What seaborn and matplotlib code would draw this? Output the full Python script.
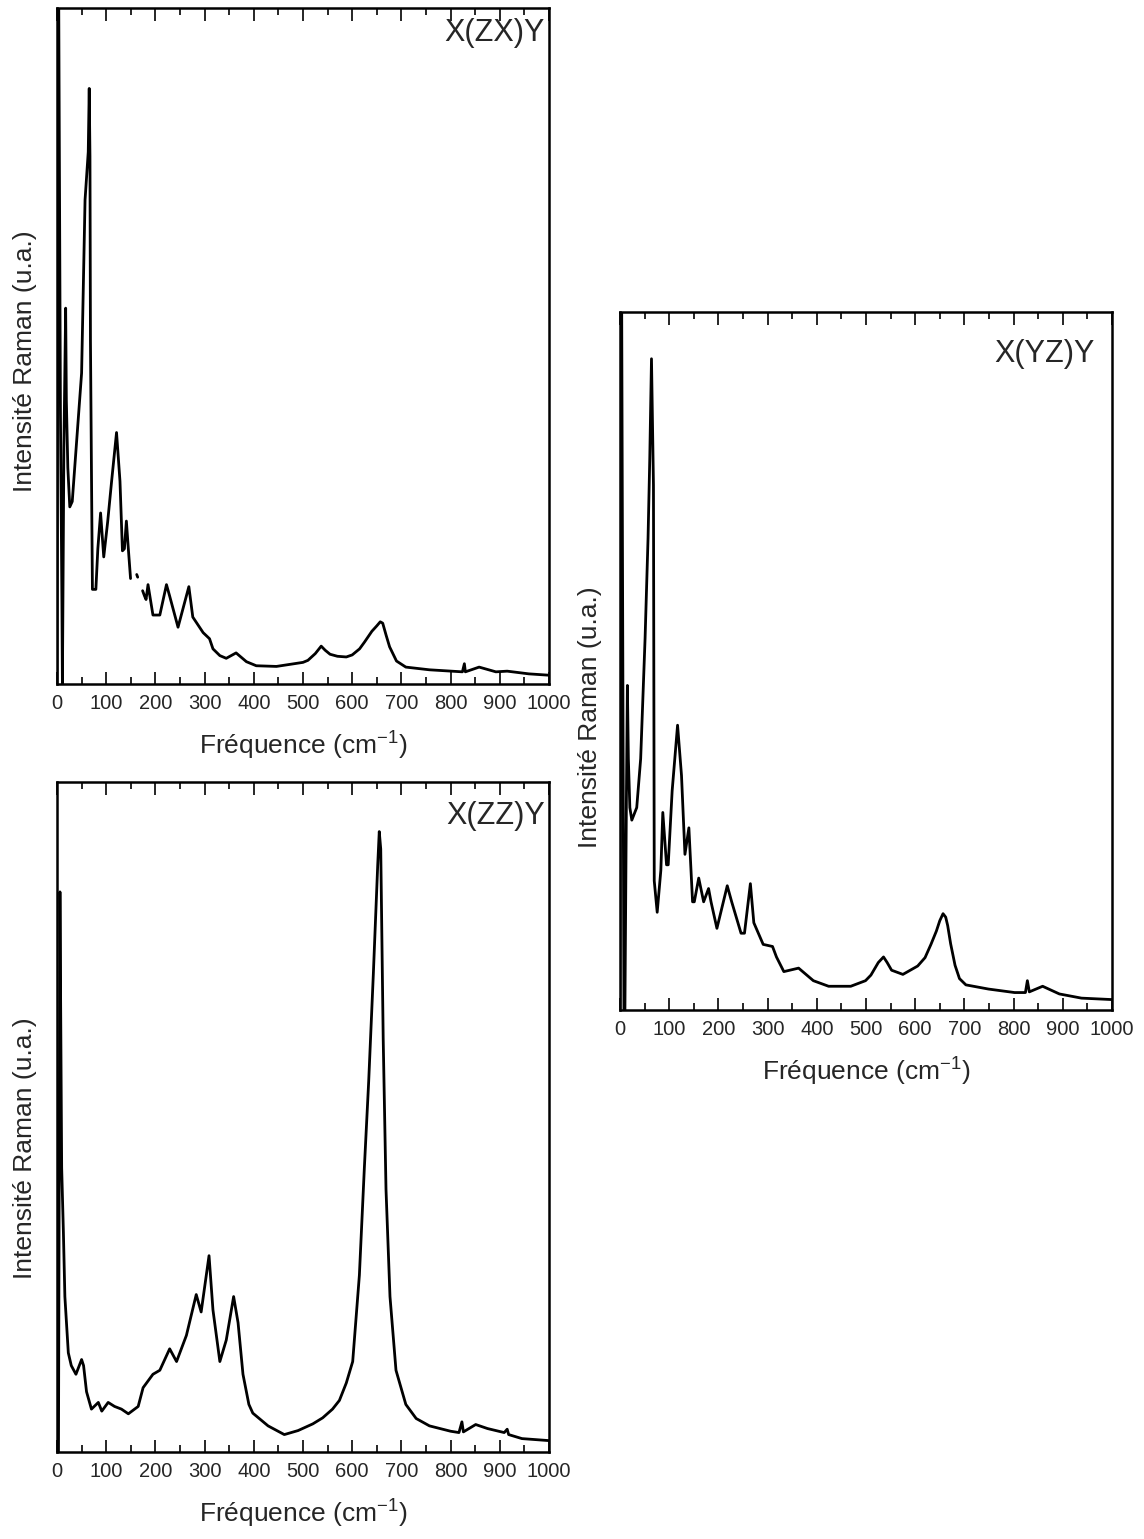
import numpy as np
import pandas as pd
import matplotlib
matplotlib.use("Agg")
import matplotlib.pyplot as plt
from matplotlib.ticker import MultipleLocator
import seaborn as sns

# ---------------- data ----------------
# X(ZX)Y  : frequency (cm-1), relative intensity (0 = bottom, 1 = top of frame)
zx_freq = [0, 3, 7, 10, 11, 14, 17.6, 19, 22, 26, 31, 40, 50, 57, 63.5, 65.5, 67, 68, 70, 72, 79, 83,
           88.6, 95, 103, 111, 121, 128, 133, 137, 141, 145, 149.5,
           162, 164,
           174, 178, 181, 185, 195, 209, 222.5, 229, 246, 268, 276, 297, 310, 317, 331, 344,
           364, 385, 405, 446, 500, 510, 525, 537, 545, 555, 570, 588, 600, 615, 625, 640, 650,
           657, 662, 669, 676, 690, 709, 757, 824, 828, 830, 858, 892, 915, 959, 1000]
zx_int = [0.0, 1.1, 0.4, 0.12, 0.0, 0.35, 0.556, 0.42, 0.32, 0.262, 0.27, 0.36, 0.46, 0.716, 0.787,
          0.881, 0.78, 0.508, 0.318, 0.14, 0.14, 0.2,
          0.253, 0.188, 0.24, 0.30, 0.372, 0.30, 0.197, 0.2, 0.241, 0.2, 0.156,
          0.162, 0.158,
          0.138, 0.13, 0.125, 0.147, 0.102, 0.102, 0.147, 0.13, 0.084, 0.144, 0.099, 0.076, 0.067,
          0.052, 0.042, 0.038,
          0.046, 0.033, 0.027, 0.026, 0.032, 0.035, 0.045, 0.056, 0.05, 0.044, 0.041, 0.040, 0.043,
          0.052, 0.062, 0.078, 0.086,
          0.092, 0.09, 0.072, 0.055, 0.034, 0.025, 0.021, 0.018, 0.030, 0.018, 0.025, 0.018, 0.019,
          0.015, 0.013]

# X(ZZ)Y
zz_freq = [3, 6, 8, 9.5, 13, 16, 23, 29, 38.5, 50, 54, 60, 70, 84, 91, 104, 117, 131, 145, 165, 175,
           195, 209, 229, 243, 263, 283, 293, 309, 317, 331, 344, 359, 368, 378, 390, 398,
           429, 462, 490, 520, 540, 560, 574, 588, 601, 614.6, 624.7, 633.5, 643, 651.8, 655, 658,
           663, 668.7, 676.8, 689, 709, 730, 757, 800, 817, 823, 826, 851, 875, 909, 915, 918,
           945, 1000]
zz_int = [0.0, 0.836, 0.6, 0.424, 0.328, 0.232, 0.148, 0.129, 0.116, 0.138, 0.129, 0.09, 0.064,
          0.074, 0.061, 0.074, 0.068, 0.064, 0.057, 0.068, 0.096,
          0.116, 0.122, 0.154, 0.135, 0.174, 0.235, 0.209, 0.293, 0.212, 0.135, 0.167, 0.232,
          0.193, 0.116, 0.071, 0.058,
          0.039, 0.026, 0.032, 0.042, 0.051, 0.064, 0.077, 0.103, 0.135, 0.264, 0.424, 0.553,
          0.714, 0.875, 0.926, 0.9,
          0.617, 0.392, 0.232, 0.122, 0.071, 0.05, 0.039, 0.031, 0.029, 0.045, 0.030, 0.041,
          0.035, 0.029, 0.034, 0.026,
          0.020, 0.017]

# X(YZ)Y
yz_freq = [0, 3, 8, 10, 13, 15, 17, 20, 24, 34, 42, 51, 57, 60.5, 64, 68, 69.6, 75.6, 83, 87, 94.6,
           98, 106, 117, 125, 132, 140, 147.5, 151, 160, 170, 180, 185, 197, 218, 227, 246, 253,
           265, 272, 291, 310, 318, 333, 363, 393, 424, 469,
           499, 510, 525, 535.6, 543, 552, 575, 605, 620, 632, 643, 650, 656.6, 662, 666, 672,
           681, 690, 703, 749, 802, 824, 828, 832, 859, 893, 938, 998]
yz_int = [0.0, 1.1, 0.0, 0.0, 0.3, 0.465, 0.36, 0.29, 0.272, 0.29, 0.36, 0.533, 0.676, 0.79, 0.933,
          0.752, 0.185, 0.14, 0.2, 0.283, 0.208,
          0.208, 0.314, 0.408, 0.336, 0.223, 0.261, 0.155, 0.155, 0.189, 0.155, 0.174, 0.155,
          0.117, 0.178, 0.155, 0.11, 0.11,
          0.181, 0.125, 0.094, 0.091, 0.076, 0.055, 0.06, 0.042, 0.034, 0.034,
          0.042, 0.05, 0.068, 0.076, 0.068, 0.057, 0.051, 0.063, 0.075, 0.094, 0.113, 0.128,
          0.138, 0.133, 0.121, 0.095,
          0.064, 0.045, 0.036, 0.03, 0.025, 0.025, 0.042, 0.026, 0.034, 0.023, 0.017, 0.015]

x_ticks = [0, 100, 200, 300, 400, 500, 600, 700, 800, 900, 1000]
x_label = "Fréquence (cm$^{-1}$)"
y_label = "Intensité Raman (u.a.)"
titles = ["X(ZX)Y", "X(ZZ)Y", "X(YZ)Y"]

# line segments of the X(ZX)Y trace (the scan has a gap near 150-175 cm-1)
zx_seg = [0] * 33 + [1] * 2 + [2] * (len(zx_freq) - 35)

# ---------------- style ----------------
sns.set_style("ticks")
plt.rcParams["font.family"] = ["Liberation Sans", "DejaVu Sans"]
plt.rcParams["mathtext.default"] = "regular"

W, H = 1144, 1539
fig = plt.figure(figsize=(W / 100, H / 100), dpi=100)


def make_ax(left, right, top, bottom):
    return fig.add_axes([left / W, 1 - bottom / H, (right - left) / W, (bottom - top) / H])


ax_zx = make_ax(57, 549, 8, 684)
ax_zz = make_ax(57, 549, 782, 1452)
ax_yz = make_ax(620, 1112, 312, 1010)

panels = [
    (ax_zx, pd.DataFrame({"f": zx_freq, "i": zx_int, "seg": zx_seg}), titles[0],
     (0.992, 0.985), (-0.041, 0.478)),
    (ax_zz, pd.DataFrame({"f": zz_freq, "i": zz_int, "seg": 0}), titles[1],
     (0.992, 0.972), (-0.041, 0.454)),
    (ax_yz, pd.DataFrame({"f": yz_freq, "i": yz_int, "seg": 0}), titles[2],
     (0.965, 0.962), (-0.037, 0.42)),
]

for ax, df, title, (tx, ty), (lx, ly) in panels:
    sns.lineplot(data=df, x="f", y="i", units="seg", estimator=None, ax=ax,
                 color="black", linewidth=2.0)
    ax.set_xlim(0, 1000)
    ax.set_ylim(0, 1)
    ax.set_xticks(x_ticks)
    ax.set_xticklabels([str(t) for t in x_ticks])
    ax.xaxis.set_minor_locator(MultipleLocator(50))
    ax.set_yticks([])
    ax.tick_params(axis="x", which="both", direction="in", top=True, bottom=True,
                   labelsize=14.5, pad=7, width=1.4)
    ax.tick_params(axis="x", which="major", length=9)
    ax.tick_params(axis="x", which="minor", length=5)
    for sp in ax.spines.values():
        sp.set_linewidth(1.8)
        sp.set_color("black")
    ax.set_xlabel(x_label, fontsize=19, labelpad=12)
    ax.set_ylabel(y_label, fontsize=19)
    ax.yaxis.set_label_coords(lx, ly)
    ax.text(tx, ty, title, transform=ax.transAxes, ha="right", va="top", fontsize=22)

fig.savefig("out.png", dpi=100)
